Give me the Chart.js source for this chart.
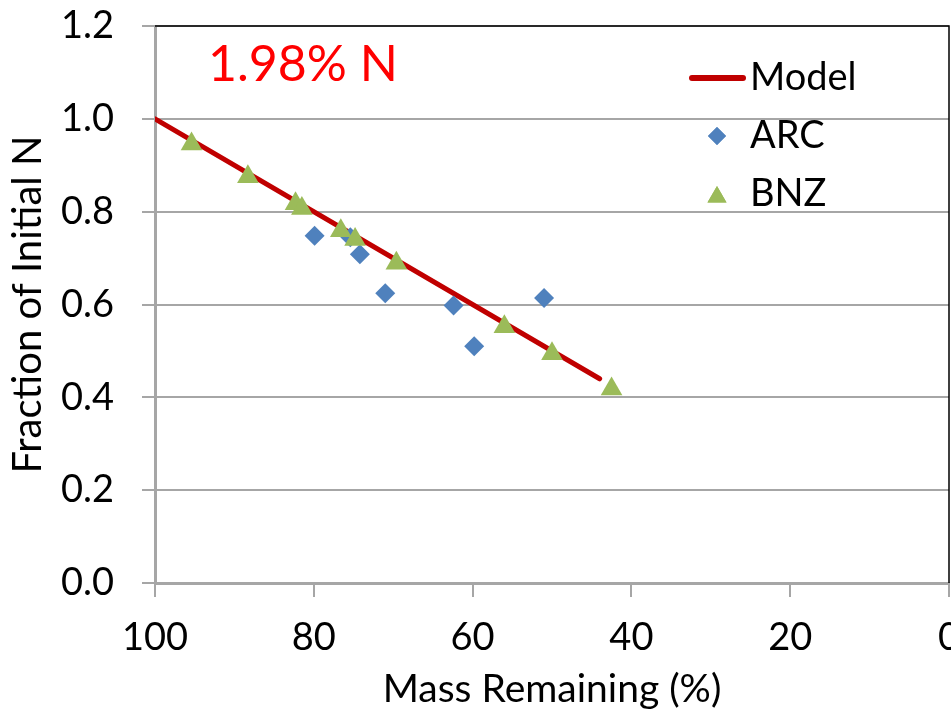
<!DOCTYPE html>
<html>
<head>
<meta charset="utf-8">
<script src="https://cdn.jsdelivr.net/npm/chart.js@4.4.1/dist/chart.umd.min.js"></script>
<style>
    body { margin: 0; background: #fff; }
    canvas { display: block; }
</style>
</head>
<body>
<canvas id="decayChart" width="951" height="715"></canvas>
<script>
// Mass remaining (%) vs fraction of initial N
const modelX = [100, 44];
const modelY = [1.0, 0.44];

const arcX = [79.9, 75.4, 74.2, 71.0, 62.4, 59.8, 51.0];
const arcY = [0.748, 0.745, 0.708, 0.624, 0.598, 0.510, 0.614];

const bnzX = [95.4, 88.3, 82.3, 81.5, 76.6, 74.8, 69.6, 56.0, 50.0, 42.5];
const bnzY = [0.946, 0.875, 0.817, 0.807, 0.759, 0.740, 0.689, 0.552, 0.494, 0.418];

const xTicks = [100, 80, 60, 40, 20, 0];
const yTicks = [0.0, 0.2, 0.4, 0.6, 0.8, 1.0, 1.2];

const FONT = 'Lato, "DejaVu Sans", sans-serif';
const GRID = '#A6A6A6';

function toPoints(xs, ys) {
    return xs.map((x, i) => ({ x: x, y: ys[i] }));
}

// title text and legend box drawn inside the plot
const overlayPlugin = {
    id: 'overlay',
    afterDraw(chart) {
        const ctx = chart.ctx;
        const area = chart.chartArea;
        ctx.save();

        // black frame on top and right
        ctx.strokeStyle = '#000';
        ctx.lineWidth = 1.5;
        ctx.beginPath();
        ctx.moveTo(area.left, area.top);
        ctx.lineTo(area.right, area.top);
        ctx.lineTo(area.right, area.bottom);
        ctx.stroke();

        ctx.fillStyle = '#FF0000';
        ctx.font = '50px ' + FONT;
        ctx.textBaseline = 'middle';
        ctx.textAlign = 'left';
        ctx.fillText('1.98% N', 208, 65);

        // legend
        const items = chart.data.datasets.slice().sort((a, b) => b.order - a.order);
        ctx.font = '38px ' + FONT;
        items.forEach((ds, i) => {
            const y = 78 + i * 58;
            if (ds.type === 'line') {
                ctx.strokeStyle = ds.borderColor;
                ctx.lineWidth = 6;
                ctx.lineCap = 'round';
                ctx.beginPath();
                ctx.moveTo(692, y);
                ctx.lineTo(743, y);
                ctx.stroke();
            } else {
                ctx.fillStyle = ds.backgroundColor;
                Chart.helpers.drawPoint(ctx, {
                    pointStyle: ds.pointStyle,
                    radius: ds.pointStyle === 'triangle' ? 11 : 9,
                    rotation: 0,
                    borderWidth: 0
                }, 717, ds.pointStyle === 'triangle' ? y + 3 : y);
                ctx.fill();
            }
            ctx.fillStyle = '#000';
            ctx.fillText(ds.label, 750, y);
        });
        ctx.restore();
    }
};

const ctx = document.getElementById('decayChart').getContext('2d');
new Chart(ctx, {
    data: {
        datasets: [
            {
                type: 'line',
                label: 'Model',
                data: toPoints(modelX, modelY),
                borderColor: '#C00000',
                borderWidth: 5,
                borderCapStyle: 'round',
                pointRadius: 0,
                fill: false,
                order: 3
            },
            {
                type: 'scatter',
                label: 'ARC',
                data: toPoints(arcX, arcY),
                pointStyle: 'rectRot',
                pointRadius: 10,
                backgroundColor: '#4F81BD',
                borderColor: '#4F81BD',
                borderWidth: 0,
                order: 2
            },
            {
                type: 'scatter',
                label: 'BNZ',
                data: toPoints(bnzX, bnzY),
                pointStyle: 'triangle',
                pointRadius: 12.5,
                backgroundColor: '#9BBB59',
                borderColor: '#9BBB59',
                borderWidth: 0,
                order: 1
            }
        ]
    },
    options: {
        responsive: false,
        animation: false,
        layout: {
            autoPadding: false,
            padding: { top: 26, right: 2, left: 0, bottom: 0 }
        },
        plugins: {
            legend: { display: false },
            tooltip: { enabled: false }
        },
        scales: {
            x: {
                type: 'linear',
                reverse: true,
                min: 0,
                max: 100,
                afterFit(scale) {
                    scale.height = 132;
                    scale.paddingLeft = 0;
                    scale.paddingRight = 0;
                },
                afterBuildTicks(scale) { scale.ticks = xTicks.map(v => ({ value: v })); },
                ticks: {
                    autoSkip: false,
                    maxRotation: 0,
                    padding: 18,
                    color: '#000',
                    font: { family: FONT, size: 38 }
                },
                grid: {
                    drawOnChartArea: false,
                    color: GRID,
                    lineWidth: 2,
                    tickLength: 14
                },
                border: { color: GRID, width: 3 },
                title: {
                    display: true,
                    text: 'Mass Remaining (%)',
                    color: '#000',
                    font: { family: FONT, size: 39 },
                    padding: { top: 0, bottom: 2 }
                }
            },
            y: {
                min: 0,
                max: 1.2,
                afterFit(scale) {
                    scale.width = 155;
                    scale.paddingTop = 0;
                    scale.paddingBottom = 0;
                },
                afterBuildTicks(scale) { scale.ticks = yTicks.map(v => ({ value: v })); },
                ticks: {
                    padding: 28,
                    color: '#000',
                    font: { family: FONT, size: 38 },
                    callback: v => v.toFixed(1)
                },
                grid: {
                    color: GRID,
                    lineWidth: 2,
                    tickLength: 13
                },
                border: { color: GRID, width: 3 },
                title: {
                    display: true,
                    text: 'Fraction of Initial N',
                    color: '#000',
                    font: { family: FONT, size: 40 },
                    padding: { top: 4, bottom: 0 }
                }
            }
        }
    },
    plugins: [overlayPlugin]
});
</script>
</body>
</html>
